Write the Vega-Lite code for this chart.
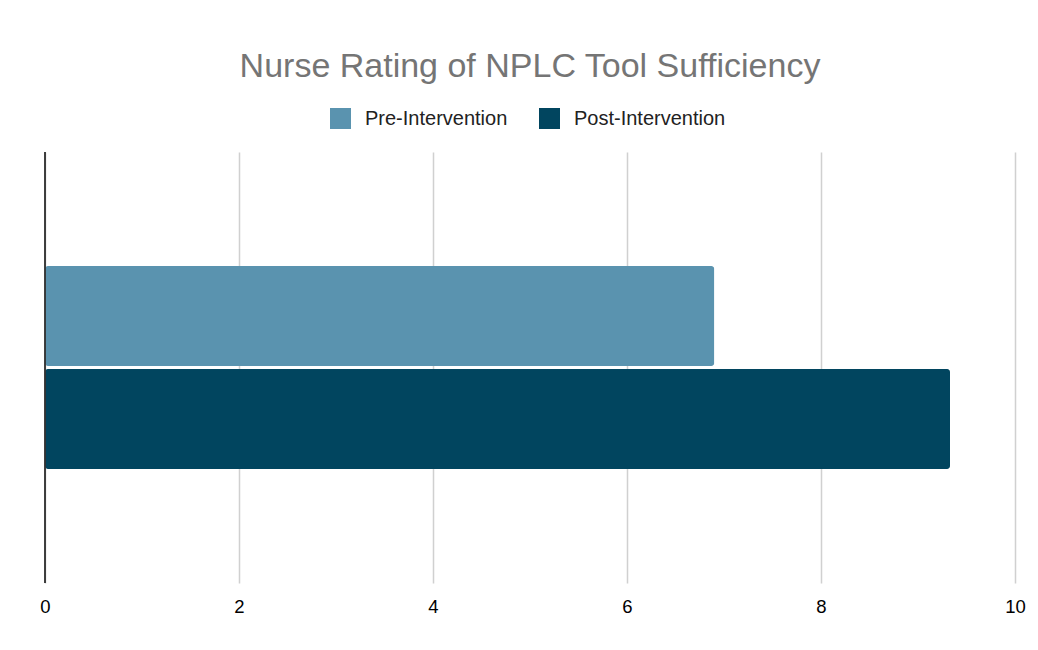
{
  "$schema": "https://vega.github.io/schema/vega-lite/v6.json",
  "width": 970,
  "height": 431,
  "autosize": {"type": "none"},
  "padding": {"left": 45, "top": 152, "right": 23, "bottom": 67},
  "background": "white",
  "title": {
    "text": "Nurse Rating of NPLC Tool Sufficiency",
    "fontSize": 34,
    "font": "Liberation Sans",
    "fontWeight": "normal",
    "color": "#757575",
    "anchor": "middle",
    "offset": 24
  },
  "config": {
    "view": {"stroke": null},
    "font": "Liberation Sans"
  },
  "data": {
    "values": [
      {"series": "Pre-Intervention", "rating": 6.9},
      {"series": "Post-Intervention", "rating": 9.33}
    ]
  },
  "layer": [
    {
      "mark": {"type": "bar", "cornerRadius": 3},
      "encoding": {
        "y": {
          "field": "series",
          "type": "nominal",
          "scale": {"domain": [" ", "Pre-Intervention", "Post-Intervention", "  "], "paddingInner": 0.029, "paddingOuter": 0.107},
          "axis": null
        },
        "x": {
          "field": "rating",
          "type": "quantitative",
          "scale": {"domain": [0, 10], "nice": false},
          "axis": {
            "title": null,
            "values": [0, 2, 4, 6, 8, 10],
            "format": "d",
            "labelFlush": false,
            "domain": false,
            "ticks": false,
            "grid": true,
            "gridColor": "#d0d0d0",
            "gridWidth": 1.5,
            "labelFontSize": 18.5,
            "labelColor": "#000000",
            "labelPadding": 14,
            "labelFont": "Liberation Sans"
          }
        },
        "color": {
          "field": "series",
          "type": "nominal",
          "scale": {"domain": ["Pre-Intervention", "Post-Intervention"], "range": ["#5A93AF", "#01455F"]},
          "legend": {
            "title": null,
            "orient": "none",
            "direction": "horizontal",
            "legendX": 285,
            "legendY": -44,
            "symbolType": "square",
            "symbolSize": 441,
            "symbolStrokeWidth": 0,
            "symbolOpacity": 1,
            "labelFontSize": 20,
            "labelColor": "#222222",
            "labelFont": "Liberation Sans",
            "labelOffset": 14,
            "columnPadding": 31
          }
        }
      }
    },
    {
      "mark": {"type": "rule", "color": "#333333", "strokeWidth": 1.5},
      "encoding": {"x": {"datum": 0, "type": "quantitative"}}
    }
  ]
}
